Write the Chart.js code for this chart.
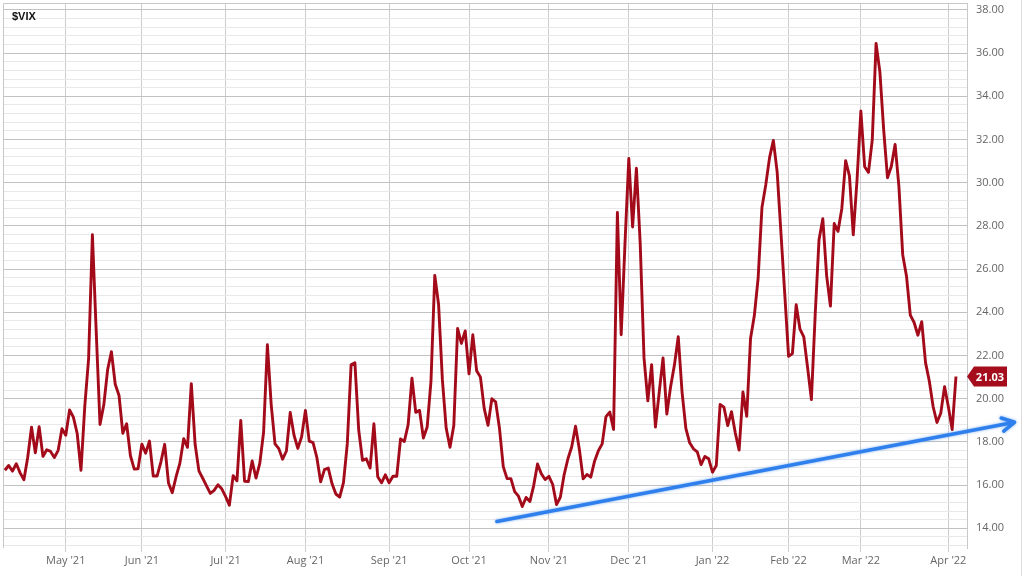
<!DOCTYPE html>
<html>
<head>
<meta charset="utf-8">
<script src="https://cdn.jsdelivr.net/npm/chart.js@4/dist/chart.umd.min.js"></script>
<style>
body{margin:0;background:#fff}
#wrap{position:relative;width:1024px;height:576px}
#title{position:absolute;left:12px;top:10px;font:bold 11px "Liberation Sans",Arial,sans-serif;color:#111}
</style>
</head>
<body>
<div id="wrap">
<canvas id="vixChart" width="1024" height="576"></canvas>
<div id="title">$VIX</div>
</div>
<script>

// daily closes, one array per month (Apr 9 '21 .. Apr 5 '22)
const vixApr21 = [16.69,16.91,16.65,16.99,16.57,16.25,17.29,18.68,17.50,18.71,17.33,17.64,17.56,17.28,17.61,18.61]
const vixMay21 = [18.31,19.48,19.15,18.39,16.69,19.66,21.84,27.59,23.13,18.81,19.72,21.34,22.18,20.67,20.15,18.40,18.84,17.36,16.74,16.76]
const vixJun21 = [17.90,17.48,18.04,16.42,16.42,17.07,17.89,16.10,15.65,16.39,17.02,18.15,17.75,20.70,17.89,16.66,16.32,15.97,15.62,15.76,16.02,15.83]
const vixJul21 = [15.48,15.07,16.44,16.20,19.00,16.18,16.17,17.12,16.33,17.01,18.45,22.50,19.73,17.91,17.69,17.20,17.58,19.36,18.31,17.70,18.24]
const vixAug21 = [19.46,18.04,17.97,17.28,16.15,16.72,16.79,16.06,15.59,15.45,16.12,17.91,21.57,21.67,18.56,17.15,17.22,16.79,18.84,16.39,16.11,16.48]
const vixSep21 = [16.11,16.41,16.41,18.14,18.02,18.80,20.95,19.37,19.46,18.18,18.69,20.81,25.71,24.36,20.87,18.63,17.75,18.76,23.25,22.56,23.14]
const vixOct21 = [21.15,22.96,21.30,21.00,19.54,18.77,20.00,19.85,18.64,16.86,16.30,16.30,15.70,15.49,15.01,15.43,15.24,15.98,16.98,16.53,16.26]
const vixNov21 = [16.41,16.03,15.10,15.44,16.48,17.22,17.78,18.73,17.66,16.29,16.49,16.37,17.11,17.59,17.91,19.17,19.38,18.58,28.62,22.96,27.19]
const vixDec21 = [31.12,27.95,30.67,27.18,21.89,19.90,21.58,18.69,20.31,21.89,19.29,20.57,21.57,22.87,20.31,18.63,17.96,17.68,17.54,16.95,17.33,17.22]
const vixJan22 = [16.60,16.91,19.73,19.61,18.76,19.40,18.41,17.62,20.31,19.19,22.79,23.85,25.59,28.85,29.90,31.16,31.96,30.49,27.66,24.83]
const vixFeb22 = [21.96,22.09,24.35,23.22,22.86,21.44,19.96,23.91,27.36,28.33,25.70,24.29,28.11,27.75,28.81,31.02,30.32,27.59,30.15]
const vixMar22 = [33.32,30.74,30.48,31.98,36.45,35.13,32.45,30.23,30.75,31.77,29.83,26.67,25.67,23.87,23.53,22.94,23.57,21.67,20.81,19.63,18.90,19.33,20.56]
const vixApr22 = [19.63,18.57,21.03]

const months = [vixApr21,vixMay21,vixJun21,vixJul21,vixAug21,vixSep21,vixOct21,vixNov21,vixDec21,vixJan22,vixFeb22,vixMar22,vixApr22]
const monthLabels = ["","May '21","Jun '21","Jul '21","Aug '21","Sep '21","Oct '21","Nov '21","Dec '21","Jan '22","Feb '22","Mar '22","Apr '22"]

// blue trend arrow (trading-day index, value)
const trendX = [129.3, 265.4]
const trendY = [14.32, 18.91]

let closes = []
let monthStart = []
months.forEach(m=>{
monthStart.push(closes.length)
closes = closes.concat(m)
})
monthStart.shift()
const tickLabels = monthLabels.slice(1)

const points = closes.map((v,i)=>({x:i,y:v}))

// minor grid every 0.4, labels every 2
let yTicks = []
for(let t=132;t<=380;t+=4) yTicks.push(t)

const extras = {
id:"extras",
beforeDatasetsDraw(chart){
const ctx = chart.ctx
const a = chart.chartArea
ctx.save()
ctx.strokeStyle = "#c8c8c8"
ctx.lineWidth = 1
ctx.beginPath()
ctx.moveTo(a.left+0.5,a.bottom)
ctx.lineTo(a.left+0.5,a.top+0.5)
ctx.lineTo(a.right,a.top+0.5)
ctx.stroke()
ctx.strokeStyle = "#dcdcdc"
ctx.beginPath()
ctx.moveTo(1021.5,0)
ctx.lineTo(1021.5,576)
ctx.stroke()
ctx.restore()
},
afterDatasetsDraw(chart){
const ctx = chart.ctx
const x = chart.scales.x
const y = chart.scales.y
const x1 = x.getPixelForValue(trendX[0]), y1 = y.getPixelForValue(trendY[0])
const x2 = x.getPixelForValue(trendX[1]), y2 = y.getPixelForValue(trendY[1])
const ang = Math.atan2(y2-y1,x2-x1)
ctx.save()
ctx.strokeStyle = "#2f80ed"
ctx.lineWidth = 3.5
ctx.lineCap = "round"
ctx.lineJoin = "round"
ctx.shadowColor = "rgba(47,128,237,0.6)"
ctx.shadowBlur = 3
ctx.beginPath()
ctx.moveTo(x1,y1)
ctx.lineTo(x2,y2)
ctx.moveTo(x2-14*Math.cos(ang-0.5),y2-14*Math.sin(ang-0.5))
ctx.lineTo(x2,y2)
ctx.lineTo(x2-14*Math.cos(ang+0.5),y2-14*Math.sin(ang+0.5))
ctx.stroke()
ctx.restore()

// last value tag
const last = closes[closes.length-1]
const ty = y.getPixelForValue(last)
const tx = chart.chartArea.right
ctx.save()
ctx.fillStyle = "#a50d1d"
ctx.beginPath()
ctx.moveTo(tx,ty)
ctx.lineTo(tx+7,ty-10)
ctx.lineTo(tx+40,ty-10)
ctx.lineTo(tx+40,ty+10)
ctx.lineTo(tx+7,ty+10)
ctx.closePath()
ctx.fill()
ctx.fillStyle = "#fff"
ctx.font = "bold 11px 'Open Sans', sans-serif"
ctx.textAlign = "center"
ctx.textBaseline = "middle"
ctx.fillText(last.toFixed(2),tx+23,ty+1)
ctx.restore()
}
}

const chart = new Chart(document.getElementById("vixChart"),{
type:"line",
data:{
datasets:[
{
label:"$VIX",
data:points,
borderColor:"#a30b1b",
borderWidth:2.9,
borderJoinStyle:"round",
pointRadius:0,
fill:false,
tension:0
}
]
},
options:{
responsive:false,
devicePixelRatio:1,
animation:false,
layout:{padding:{left:3,top:3,right:0,bottom:0}},
plugins:{legend:{display:false},tooltip:{enabled:false}},
scales:{
x:{
type:"linear",
min:-0.5,
max:252.9,
afterBuildTicks(axis){ axis.ticks = monthStart.map(v=>({value:v})) },
afterFit(s){ s.height=28; s.paddingLeft=0; s.paddingRight=0 },
ticks:{
autoSkip:false,
maxRotation:0,
padding:2,
color:"#666",
font:{family:"'Open Sans', sans-serif",size:11},
callback(v){ return tickLabels[monthStart.indexOf(v)] }
},
grid:{color:"#cdcdcd",lineWidth:1,tickLength:4},
border:{display:false}
},
y:{
type:"linear",
position:"right",
min:13.09,
max:38.32,
afterBuildTicks(axis){ axis.ticks = yTicks.map(t=>({value:t/10})) },
afterFit(s){ s.width=57; s.paddingTop=0; s.paddingBottom=0 },
ticks:{
autoSkip:false,
padding:9,
color:"#666",
font:{family:"'Open Sans', sans-serif",size:11},
callback(v){ return Math.round(v*10)%20==0 ? v.toFixed(2) : "" }
},
grid:{
drawTicks:false,
color(c){ return Math.round(c.tick.value*10)%20==0 ? "#c2c2c2" : "#e8e8e8" }
},
border:{display:true,color:"#c8c8c8"}
}
}
},
plugins:[extras]
})

</script>
</body>
</html>
